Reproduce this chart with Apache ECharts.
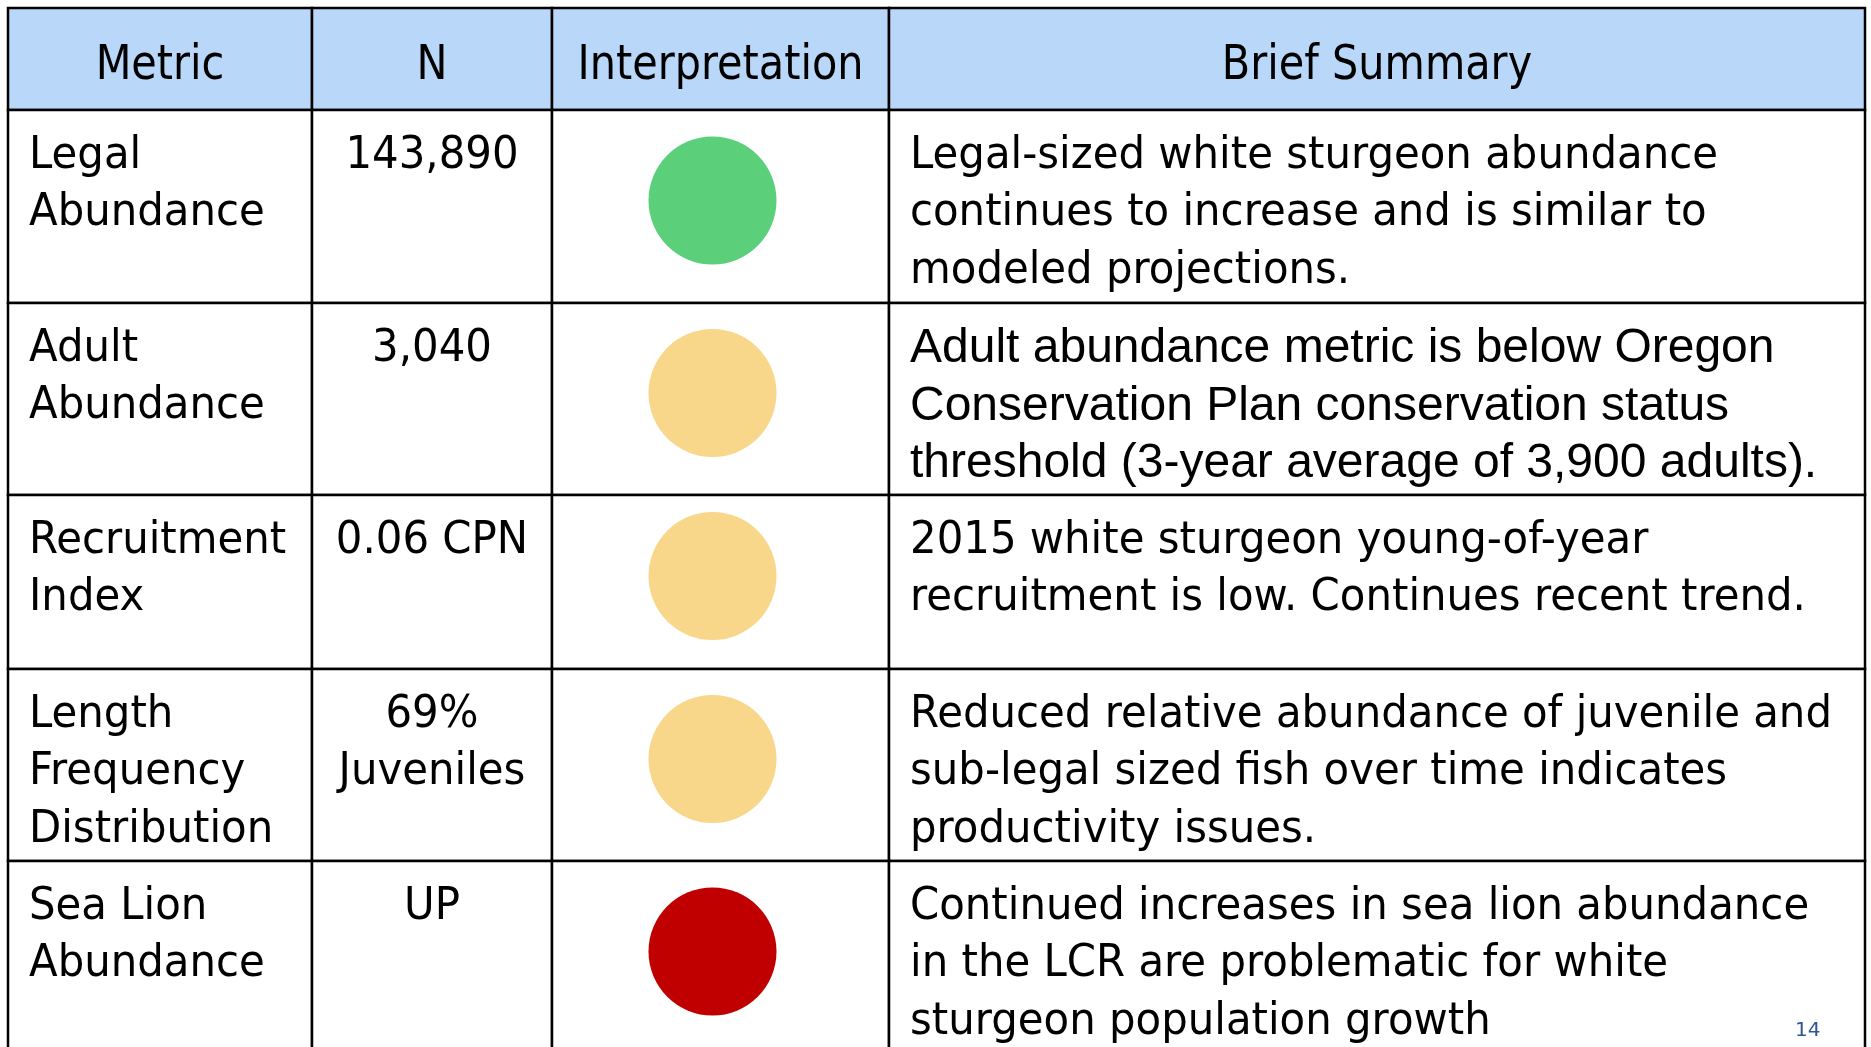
<!DOCTYPE html>
<html lang="en">
<head>
    <meta charset="UTF-8">
    <title>White sturgeon status</title>
    <script src="https://cdn.jsdelivr.net/npm/echarts@6.0.0/dist/echarts.min.js"></script>
    <style>
        html, body { margin: 0; padding: 0; background: #fff; }
        #main { width: 1871px; height: 1047px; }
    </style>
</head>
<body>
    <div id="main"></div>
    <script type="text/javascript">
        // table content
        var headers = ['Metric', 'N', 'Interpretation', 'Brief Summary'];
        var metrics = ['Legal\nAbundance', 'Adult\nAbundance', 'Recruitment\nIndex', 'Length\nFrequency\nDistribution', 'Sea Lion\nAbundance'];
        var nValues = ['143,890', '3,040', '0.06 CPN', '69%\nJuveniles', 'UP'];
        var statuses = ['good', 'caution', 'caution', 'caution', 'concern'];
        var summaries = [
            'Legal-sized white sturgeon abundance\ncontinues to increase and is similar to\nmodeled projections.',
            'Adult abundance metric is below Oregon\nConservation Plan conservation status\nthreshold (3-year average of 3,900 adults).',
            '2015 white sturgeon young-of-year\nrecruitment is low. Continues recent trend.',
            'Reduced relative abundance of juvenile and\nsub-legal sized fish over time indicates\nproductivity issues.',
            'Continued increases in sea lion abundance\nin the LCR are problematic for white\nsturgeon population growth'
        ];
        var pageNumber = '14';

        // layout in px (grid maps 1:1 onto the page)
        var colEdges = [8, 312, 552, 889, 1865];
        var rowEdges = [8, 110, 303, 495, 669, 861, 1054];
        var statusColors = { good: '#5BCF7A', caution: '#F8D78B', concern: '#C00000' };
        var headerBg = '#B9D7F8';
        var FONT = 'DejaVu Sans';
        var ARIAL = 'Liberation Sans';
        var arialSummaryRows = [1];  // that one summary is set in Arial on the slide
        var lineH = 57.5;

        // squeeze DejaVu horizontally so it takes the room Tahoma takes
        var ctx = document.createElement('canvas').getContext('2d');
        ctx.font = '44px "' + FONT + '"';
        var bodyScale = 808 / ctx.measureText('Legal-sized white sturgeon abundance').width;
        ctx.font = '48px "' + FONT + '"';
        var headScale = 286 / ctx.measureText('Interpretation').width;

        var cells = [];
        for (var r = 0; r < rowEdges.length - 1; r++) {
            for (var c = 0; c < colEdges.length - 1; c++) {
                cells.push([c, r]);
            }
        }

        function cellText(c, r) {
            if (r === 0) return headers[c];
            if (c === 0) return metrics[r - 1];
            if (c === 1) return nValues[r - 1];
            if (c === 3) return summaries[r - 1];
            return '';
        }

        function renderCell(params, api) {
            var c = api.value(0), r = api.value(1);
            var p0 = api.coord([colEdges[c], rowEdges[r]]);
            var p1 = api.coord([colEdges[c + 1], rowEdges[r + 1]]);
            var children = [{
                type: 'rect',
                shape: { x: p0[0], y: p0[1], width: p1[0] - p0[0], height: p1[1] - p0[1] },
                style: { fill: r === 0 ? headerBg : '#fff', stroke: '#000', lineWidth: 2.5 }
            }];
            var txt = cellText(c, r);
            if (txt) {
                if (r === 0) {
                    children.push({
                        type: 'text', x: (p0[0] + p1[0]) / 2, y: (p0[1] + p1[1]) / 2 + 7.5, scaleX: headScale,
                        style: { text: txt, fontSize: 48, fontFamily: FONT, fill: '#000', align: 'center', verticalAlign: 'middle' }
                    });
                } else {
                    var arial = c === 3 && arialSummaryRows.indexOf(r - 1) >= 0;
                    var tx = c === 1 ? (p0[0] + p1[0]) / 2 : p0[0] + 21;
                    children.push({
                        type: 'text', x: tx, y: p0[1] + 17.5, scaleX: arial ? 1 : bodyScale,
                        style: {
                            text: txt, fontSize: arial ? 48 : 44, fontFamily: arial ? ARIAL : FONT,
                            fill: '#000', align: c === 1 ? 'center' : 'left', verticalAlign: 'top', lineHeight: lineH
                        }
                    });
                }
            }
            return { type: 'group', children: children };
        }

        // the dots sit a little left of and above the cell centre
        var dots = statuses.map(function (s, i) {
            return {
                value: [(colEdges[2] + colEdges[3]) / 2 - 8, (rowEdges[i + 1] + rowEdges[i + 2]) / 2 - 6],
                itemStyle: { color: statusColors[s], opacity: 1 }
            };
        });

        var chart = echarts.init(document.getElementById('main'));
        var option = {
            animation: false,
            backgroundColor: '#fff',
            title: {
                text: pageNumber, left: 1795, top: 1021, padding: 0,
                textStyle: { fontSize: 20, fontWeight: 'normal', color: '#2F5597', fontFamily: FONT }
            },
            grid: { left: 0, right: 0, top: 0, bottom: 0 },
            xAxis: { type: 'value', min: 0, max: 1871, show: false },
            yAxis: { type: 'value', min: 0, max: 1047, inverse: true, show: false },
            series: [{
                type: 'custom',
                renderItem: renderCell,
                data: cells,
                silent: true,
                z: 1
            }, {
                type: 'scatter',
                data: dots,
                symbol: 'circle',
                symbolSize: 128,
                itemStyle: { opacity: 1 },
                silent: true,
                z: 3
            }]
        };
        chart.setOption(option);
    </script>
</body>
</html>
